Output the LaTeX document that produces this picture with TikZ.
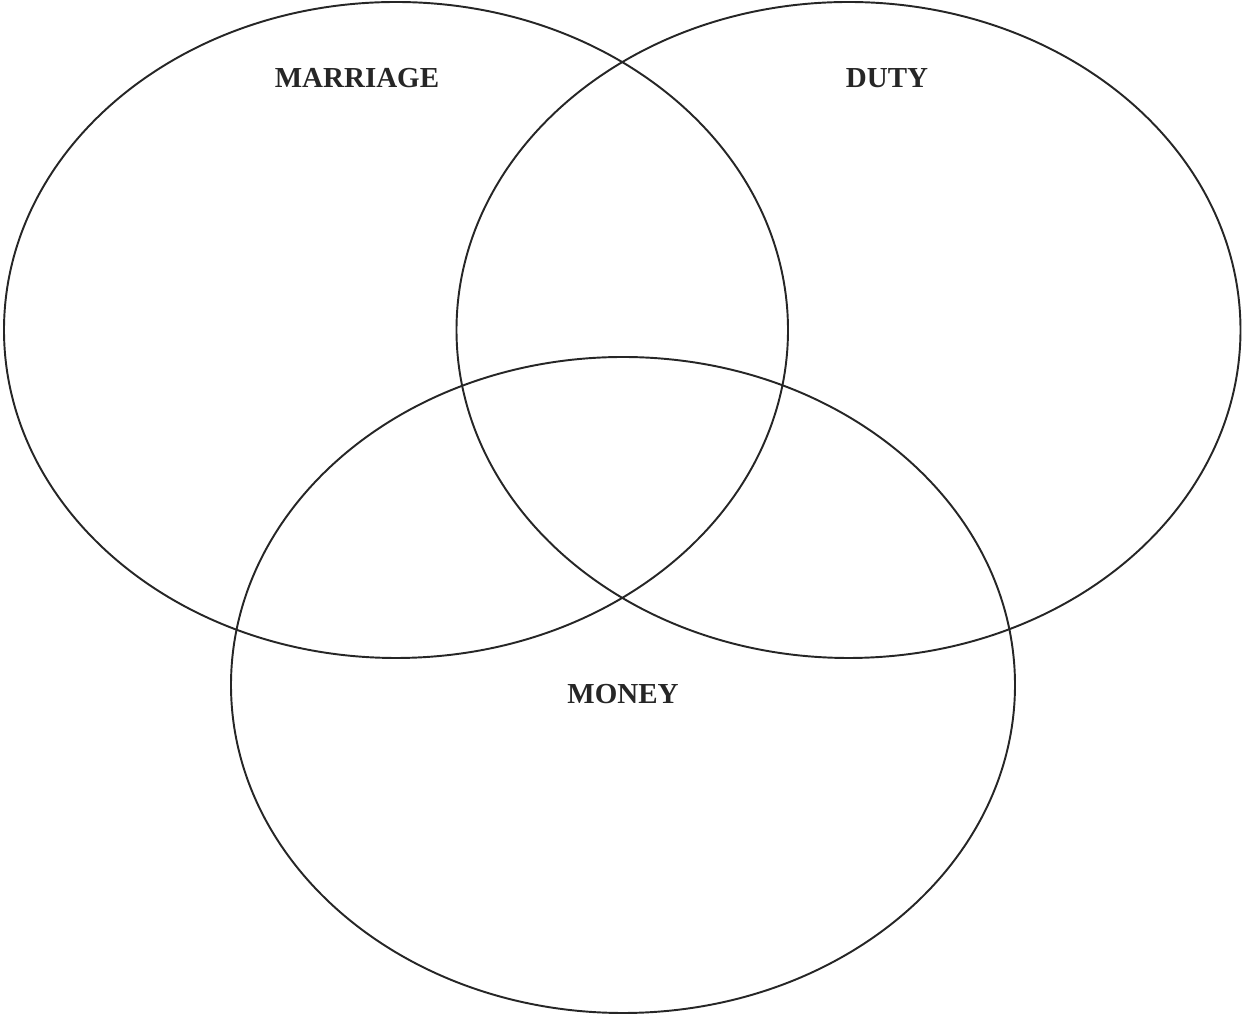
\documentclass[tikz,border=0pt]{standalone}
\usepackage{fontspec}
\setmainfont{Liberation Serif}
\usetikzlibrary{positioning}

\begin{document}
\begin{tikzpicture}
\useasboundingbox (0,0) rectangle (24.84,20.32);

% Declare the radii of the three sets
\def\rx{7.84}
\def\ry{6.56}

\tikzset{setline/.style={draw=black!85, line width=1.1pt}}
\tikzset{setlabel/.style={inner sep=0pt, font=\fontsize{16.5}{18}\selectfont\bfseries, text=black!85}}

% Centres of the three sets
\foreach \n/\x/\y in {marriage/7.92/13.72, duty/16.97/13.72, money/12.46/6.62} {
    \coordinate (\n) at (\x,\y);
}

% Draw the sets
\draw[setline] (marriage) ellipse ({\rx} and {\ry});
\draw[setline] (duty) ellipse ({\rx} and {\ry});
\draw[setline] (money) ellipse ({\rx} and {\ry});

% Labels
\node[setlabel] (lmarriage) at (7.14,18.76) {MARRIAGE};
\node[setlabel] (lduty) at (17.74,18.76) {DUTY};
\node[setlabel] (lmoney) at (12.46,6.44) {MONEY};

\end{tikzpicture}
\end{document}
